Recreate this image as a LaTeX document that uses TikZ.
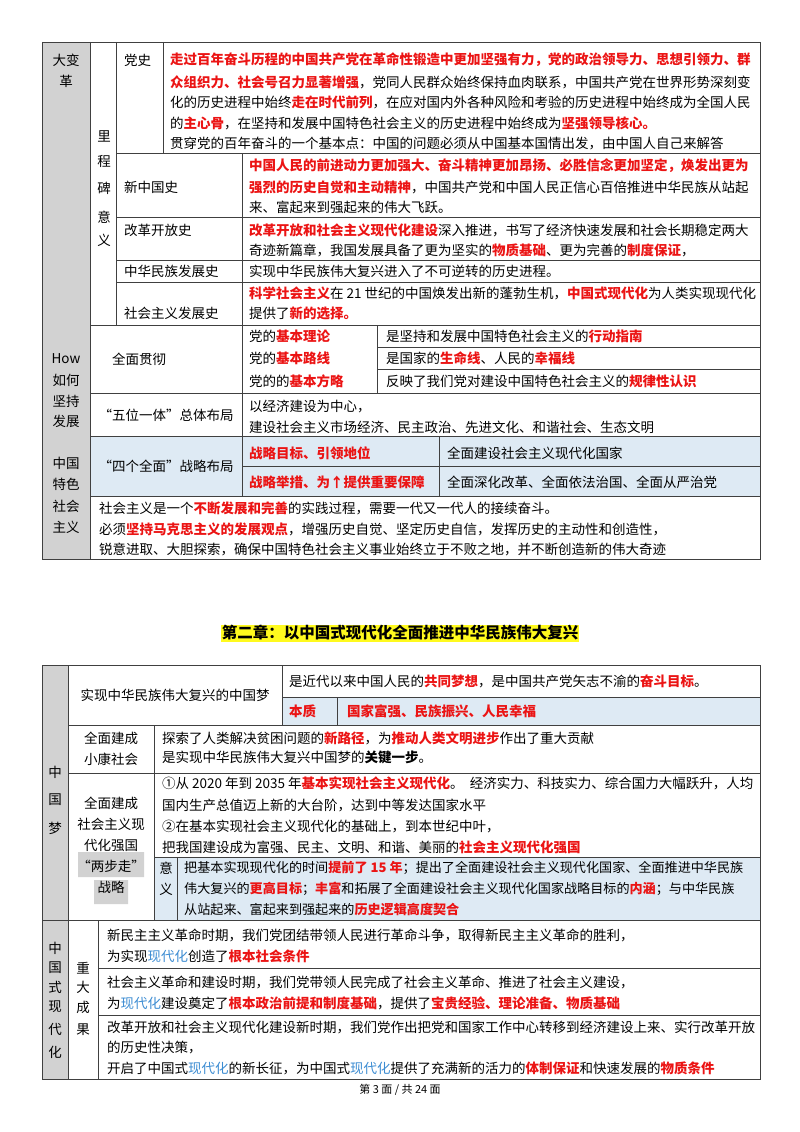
\documentclass[tikz,border=0pt]{standalone}
\usepackage{fontspec}
\setmainfont{Noto Sans CJK SC}
\newfontfamily\cjk{Noto Sans CJK SC}
\definecolor{rd}{RGB}{235,20,20}
\definecolor{bl}{RGB}{60,140,210}
\definecolor{lb}{RGB}{222,234,244}
\definecolor{gc}{RGB}{210,210,210}
\definecolor{yl}{RGB}{255,250,30}
\newcommand\R[1]{{\bfseries\color{rd}#1}}
\newcommand\Bl[1]{{\color{bl}#1}}
\begin{document}
\begin{tikzpicture}[x=1pt,y=-1pt,
  tx/.style={anchor=west,inner sep=0pt,font=\cjk\fontsize{13.5}{21}\selectfont},
  lab/.style={inner sep=0pt,align=center,font=\cjk\fontsize{13.5}{21}\selectfont},
  ln/.style={draw=black!75,line width=0.8pt}]
\useasboundingbox (0,0) rectangle (800,1132);
% ---------- table 1 ----------
\fill[gc] (42,42) rectangle (90,559);
\fill[lb] (90,436) rectangle (760,496);
\draw[ln] (42,42) -- (760,42) (42,42) -- (42,559) -- (760,559) -- (760,42);
\draw[ln] (90,42) -- (90,559);
\draw[ln] (116,42) -- (116,325);
\draw[ln] (163,42) -- (163,153) (116,153) -- (760,153);
\draw[ln] (242,153) -- (242,496);
\draw[ln] (116,217) -- (760,217) (116,260) -- (760,260) (116,282) -- (760,282);
\draw[ln] (90,325) -- (760,325) (90,393) -- (760,393) (90,436) -- (760,436) (90,496) -- (760,496);
\draw[ln] (377,325) -- (377,393) (377,347) -- (760,347) (377,369) -- (760,369);
\draw[ln] (439,436) -- (439,496) (242,466) -- (760,466);
\node[lab] (a1) at (66,60) {大变};
\node[lab] (a2) at (66,81) {革};
\foreach \t/\yy [count=\i] in {How/359,如何/380,坚持/401,发展/421,中国/463,特色/484,社会/506,主义/527}
  \node[lab] (h\i) at (66,\yy) {\t};
\foreach \t/\yy [count=\i] in {里/136,程/161,碑/188,意/217,义/240}
  \node[lab] (m\i) at (104,\yy) {\t};
\node[tx] (ds) at (124,60) {党史};
\node[tx] (d1) at (170,60) {\R{走过百年奋斗历程的中国共产党在革命性锻造中更加坚强有力，党的政治领导力、思想引领力、群}};
\node[tx] (d2) at (170,82) {\R{众组织力、社会号召力显著增强}，党同人民群众始终保持血肉联系，中国共产党在世界形势深刻变};
\node[tx] (d3) at (170,102) {化的历史进程中始终\R{走在时代前列}，在应对国内外各种风险和考验的历史进程中始终成为全国人民};
\node[tx] (d4) at (170,123) {的\R{主心骨}，在坚持和发展中国特色社会主义的历史进程中始终成为\R{坚强领导核心。}};
\node[tx] (d5) at (170,144) {贯穿党的百年奋斗的一个基本点：中国的问题必须从中国基本国情出发，由中国人自己来解答};
\node[tx] (x0) at (124,187) {新中国史};
\node[tx] (x1) at (249,166) {\R{中国人民的前进动力更加强大、奋斗精神更加昂扬、必胜信念更加坚定，焕发出更为}};
\node[tx] (x2) at (249,187) {\R{强烈的历史自觉和主动精神}，中国共产党和中国人民正信心百倍推进中华民族从站起};
\node[tx] (x3) at (249,207) {来、富起来到强起来的伟大飞跃。};
\node[tx] (g0) at (124,230) {改革开放史};
\node[tx] (g1) at (249,230) {\R{改革开放和社会主义现代化建设}深入推进，书写了经济快速发展和社会长期稳定两大};
\node[tx] (g2) at (249,250) {奇迹新篇章，我国发展具备了更为坚实的\R{物质基础}、更为完善的\R{制度保证}，};
\node[tx] (z0) at (124,271) {中华民族发展史};
\node[tx] (z1) at (249,271) {实现中华民族伟大复兴进入了不可逆转的历史进程。};
\node[tx] (s0) at (124,313) {社会主义发展史};
\node[tx] (s1) at (249,293) {\R{科学社会主义}在 21 世纪的中国焕发出新的蓬勃生机，\R{中国式现代化}为人类实现现代化};
\node[tx] (s2) at (249,313) {提供了\R{新的选择。}};
\node[tx] (q0) at (112,359) {全面贯彻};
\node[tx] (q1) at (249,336) {党的\R{基本理论}};
\node[tx] (q2) at (249,358) {党的\R{基本路线}};
\node[tx] (q3) at (249,381) {党的的\R{基本方略}};
\node[tx] (r1) at (386,336) {是坚持和发展中国特色社会主义的\R{行动指南}};
\node[tx] (r2) at (386,358) {是国家的\R{生命线}、人民的\R{幸福线}};
\node[tx] (r3) at (386,381) {反映了我们党对建设中国特色社会主义的\R{规律性认识}};
\node[lab] (w0) at (166,415) {“五位一体”总体布局};
\node[tx] (w1) at (249,407) {以经济建设为中心，};
\node[tx] (w2) at (249,427) {建设社会主义市场经济、民主政治、先进文化、和谐社会、生态文明};
\node[lab] (f0) at (166,466) {“四个全面”战略布局};
\node[tx] (f1) at (249,453) {\R{战略目标、引领地位}};
\node[tx] (f2) at (249,482) {\R{战略举措、为↑提供重要保障}};
\node[tx] (f3) at (447,453) {全面建设社会主义现代化国家};
\node[tx] (f4) at (447,482) {全面深化改革、全面依法治国、全面从严治党};
\node[tx] (e1) at (99,508) {社会主义是一个\R{不断发展和完善}的实践过程，需要一代又一代人的接续奋斗。};
\node[tx] (e2) at (99,529) {必须\R{坚持马克思主义的发展观点}，增强历史自觉、坚定历史自信，发挥历史的主动性和创造性，};
\node[tx] (e3) at (99,549) {锐意进取、大胆探索，确保中国特色社会主义事业始终立于不败之地，并不断创造新的伟大奇迹};
% ---------- title ----------
\node[fill=yl,inner sep=1pt,font=\cjk\bfseries\fontsize{15.5}{18}\selectfont] (tt) at (400,633) {第二章：以中国式现代化全面推进中华民族伟大复兴};
% ---------- table 2 ----------
\fill[gc] (42,665) rectangle (68,1079);
\fill[lb] (282,697) rectangle (760,725);
\fill[lb] (154,857) rectangle (760,920);
\fill[gc] (78,852) rectangle (144,877) (94,880) rectangle (128,904);
\draw[ln] (42,665) -- (760,665) -- (760,1079) -- (42,1079) -- cycle;
\draw[ln] (68,665) -- (68,1079);
\draw[ln] (282,665) -- (282,725) (282,697) -- (760,697) (337,697) -- (337,725);
\draw[ln] (68,725) -- (760,725) (68,773) -- (760,773) (42,920) -- (760,920);
\draw[ln] (154,725) -- (154,920) (154,857) -- (760,857) (177,857) -- (177,920);
\draw[ln] (98,920) -- (98,1079) (98,968) -- (760,968) (98,1015) -- (760,1015);
\foreach \t/\yy [count=\i] in {中/772,国/800,梦/828}
  \node[lab] (cm\i) at (55,\yy) {\t};
\foreach \t/\yy [count=\i] in {中/948,国/968,式/987,现/1007,代/1029,化/1052}
  \node[lab] (cx\i) at (55,\yy) {\t};
\foreach \t/\yy [count=\i] in {重/968,大/987,成/1007,果/1030}
  \node[lab] (cz\i) at (83,\yy) {\t};
\node[lab] (k0) at (175,695) {实现中华民族伟大复兴的中国梦};
\node[tx] (k1) at (289,681) {是近代以来中国人民的\R{共同梦想}，是中国共产党矢志不渝的\R{奋斗目标}。};
\node[tx] (k2) at (289,711) {\R{本质}};
\node[tx] (k3) at (347,711) {\R{国家富强、民族振兴、人民幸福}};
\node[lab] (p0) at (111,749) {全面建成\\小康社会};
\node[tx] (p1) at (162,738) {探索了人类解决贫困问题的\R{新路径}，为\R{推动人类文明进步}作出了重大贡献};
\node[tx] (p2) at (162,757) {是实现中华民族伟大复兴中国梦的\textbf{关键一步}。};
\node[lab] (t0) at (111,845) {全面建成\\社会主义现\\代化强国\\“两步走”\\战略};
\node[tx] (t1) at (162,783) {①从 2020 年到 2035 年\R{基本实现社会主义现代化}。 \ 经济实力、科技实力、综合国力大幅跃升，人均};
\node[tx] (t2) at (162,805) {国内生产总值迈上新的大台阶，达到中等发达国家水平};
\node[tx] (t3) at (162,826) {②在基本实现社会主义现代化的基础上，到本世纪中叶，};
\node[tx] (t4) at (162,847) {把我国建设成为富强、民主、文明、和谐、美丽的\R{社会主义现代化强国}};
\node[lab] (y1) at (166,868) {意};
\node[lab] (y2) at (166,889) {义};
\node[tx,font=\cjk\fontsize{13.1}{21}\selectfont] (u1) at (184,868) {把基本实现现代化的时间\R{提前了 15 年}；提出了全面建设社会主义现代化国家、全面推进中华民族};
\node[tx,font=\cjk\fontsize{13.1}{21}\selectfont] (u2) at (184,889) {伟大复兴的\R{更高目标}；\R{丰富}和拓展了全面建设社会主义现代化国家战略目标的\R{内涵}；与中华民族};
\node[tx,font=\cjk\fontsize{13.1}{21}\selectfont] (u3) at (184,910) {从站起来、富起来到强起来的\R{历史逻辑高度契合}};
\node[tx] (v1) at (107,935) {新民主主义革命时期，我们党团结带领人民进行革命斗争，取得新民主主义革命的胜利，};
\node[tx] (v2) at (107,956) {为实现\Bl{现代化}创造了\R{根本社会条件}};
\node[tx] (v3) at (107,982) {社会主义革命和建设时期，我们党带领人民完成了社会主义革命、推进了社会主义建设，};
\node[tx] (v4) at (107,1003) {为\Bl{现代化}建设奠定了\R{根本政治前提和制度基础}，提供了\R{宝贵经验、理论准备、物质基础}};
\node[tx] (v5) at (107,1027) {改革开放和社会主义现代化建设新时期，我们党作出把党和国家工作中心转移到经济建设上来、实行改革开放};
\node[tx] (v6) at (107,1048) {的历史性决策，};
\node[tx] (v7) at (107,1068) {开启了中国式\Bl{现代化}的新长征，为中国式\Bl{现代化}提供了充满新的活力的\R{体制保证}和快速发展的\R{物质条件}};
\node[lab,font=\cjk\fontsize{11}{13}\selectfont] (ft) at (400,1090) {第\ 3\ 面\ /\ 共\ 24\ 面};
\end{tikzpicture}
\end{document}
